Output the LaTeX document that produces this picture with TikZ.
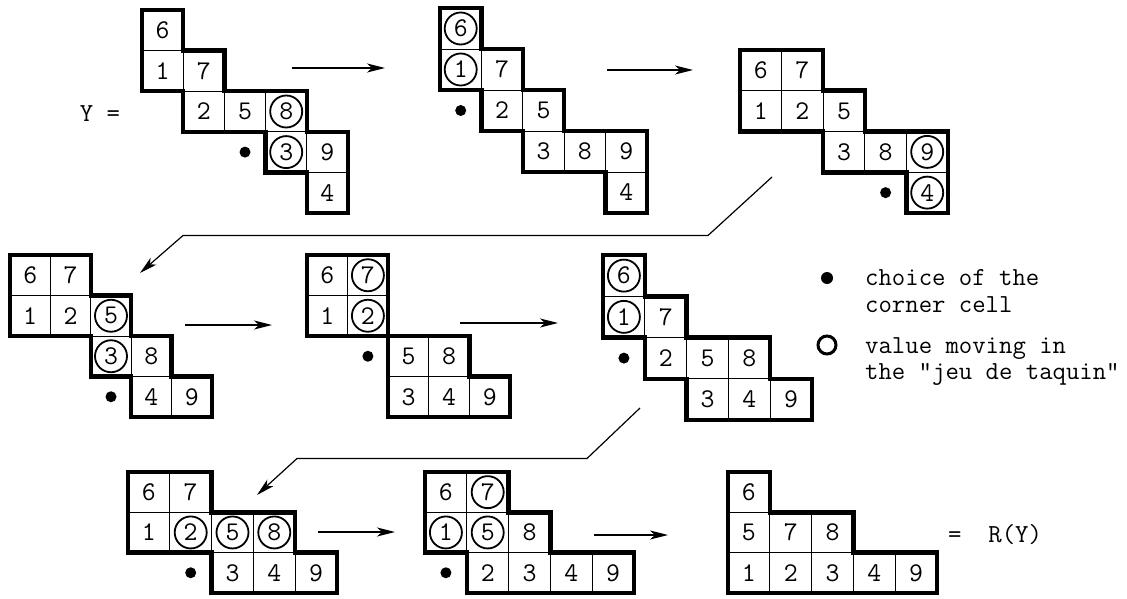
\documentclass[tikz,border=0pt]{standalone}
\usetikzlibrary{arrows.meta}
\tikzset{
  cellbox/.style={draw, line width=0.8pt, inner sep=0pt, font=\fontsize{27}{30}\selectfont\ttfamily},
  outline/.style={line width=4.5pt, line join=miter},
  ring/.style={line width=1.8pt},
  dotmark/.style={fill=black},
  arr/.style={line width=1.4pt, -{Stealth[length=18pt,width=9pt,inset=5pt]}},
  longarr/.style={line width=1.2pt, line join=round, -{Stealth[length=18pt,width=9pt,inset=5pt]}},
  lab/.style={inner sep=0pt, font=\fontsize{26}{28}\selectfont\ttfamily},
  legtext/.style={inner sep=0pt, anchor=base west, font=\fontsize{26}{28}\selectfont\ttfamily},
  tabgrid/.style n args={4}{shift={(#1,#2)}, x=#3pt, y=-#4pt,
     cellbox/.append style={minimum width=#3pt, minimum height=#4pt}}
}
\begin{document}
\begin{tikzpicture}[x=1pt,y=-1pt]
\useasboundingbox (0,0) rectangle (1127,599);
\fill[white] (0,0) rectangle (1127,599);

% T1
\begin{scope}[tabgrid={142}{10}{41.2}{40.6}]
 \foreach \r/\c/\v in {0/0/6,1/0/1,1/1/7,2/1/2,2/2/5,2/3/8,3/3/3,3/4/9,4/4/4}
   \node[cellbox] (a-\r-\c) at (\c+0.5,\r+0.5) {\v};
 \draw[outline] (0,0)--(1,0)--(1,1)--(2,1)--(2,2)--(4,2)--(4,3)--(5,3)--(5,5)--(4,5)--(4,4)--(3,4)--(3,3)--(1,3)--(1,2)--(0,2)--cycle;
 \foreach \n in {a-2-3,a-3-3} \draw[ring] (\n.center) circle[radius=16pt];
 \fill[dotmark] (2.5,3.5) circle[radius=5.5pt];
\end{scope}
\node[lab] (ylab) at (100,114) {Y =};

% T2
\begin{scope}[tabgrid={440}{8}{41.4}{41}]
 \foreach \r/\c/\v in {0/0/6,1/0/1,1/1/7,2/1/2,2/2/5,3/2/3,3/3/8,3/4/9,4/4/4}
   \node[cellbox] (b-\r-\c) at (\c+0.5,\r+0.5) {\v};
 \draw[outline] (0,0)--(1,0)--(1,1)--(2,1)--(2,2)--(3,2)--(3,3)--(5,3)--(5,5)--(4,5)--(4,4)--(2,4)--(2,3)--(1,3)--(1,2)--(0,2)--cycle;
 \foreach \n in {b-0-0,b-1-0} \draw[ring] (\n.center) circle[radius=16pt];
 \fill[dotmark] (0.5,2.5) circle[radius=5.5pt];
\end{scope}

% T3
\begin{scope}[tabgrid={740}{50}{41.6}{40.75}]
 \foreach \r/\c/\v in {0/0/6,0/1/7,1/0/1,1/1/2,1/2/5,2/2/3,2/3/8,2/4/9,3/4/4}
   \node[cellbox] (c-\r-\c) at (\c+0.5,\r+0.5) {\v};
 \draw[outline] (0,0)--(2,0)--(2,1)--(3,1)--(3,2)--(5,2)--(5,4)--(4,4)--(4,3)--(2,3)--(2,2)--(0,2)--cycle;
 \foreach \n in {c-2-4,c-3-4} \draw[ring] (\n.center) circle[radius=16pt];
 \fill[dotmark] (3.5,3.5) circle[radius=5.5pt];
\end{scope}

% T4
\begin{scope}[tabgrid={10}{255}{40.4}{40.5}]
 \foreach \r/\c/\v in {0/0/6,0/1/7,1/0/1,1/1/2,1/2/5,2/2/3,2/3/8,3/3/4,3/4/9}
   \node[cellbox] (d-\r-\c) at (\c+0.5,\r+0.5) {\v};
 \draw[outline] (0,0)--(2,0)--(2,1)--(3,1)--(3,2)--(4,2)--(4,3)--(5,3)--(5,4)--(3,4)--(3,3)--(2,3)--(2,2)--(0,2)--cycle;
 \foreach \n in {d-1-2,d-2-2} \draw[ring] (\n.center) circle[radius=16pt];
 \fill[dotmark] (2.5,3.5) circle[radius=5.5pt];
\end{scope}

% T5
\begin{scope}[tabgrid={307}{255}{40.6}{40.5}]
 \foreach \r/\c/\v in {0/0/6,0/1/7,1/0/1,1/1/2,2/2/5,2/3/8,3/2/3,3/3/4,3/4/9}
   \node[cellbox] (e-\r-\c) at (\c+0.5,\r+0.5) {\v};
 \draw[outline] (0,0)--(2,0)--(2,2)--(4,2)--(4,3)--(5,3)--(5,4)--(2,4)--(2,2)--(0,2)--cycle;
 \foreach \n in {e-0-1,e-1-1} \draw[ring] (\n.center) circle[radius=16pt];
 \fill[dotmark] (1.5,2.5) circle[radius=5.5pt];
\end{scope}

% T6
\begin{scope}[tabgrid={603}{255}{41.8}{41.25}]
 \foreach \r/\c/\v in {0/0/6,1/0/1,1/1/7,2/1/2,2/2/5,2/3/8,3/2/3,3/3/4,3/4/9}
   \node[cellbox] (f-\r-\c) at (\c+0.5,\r+0.5) {\v};
 \draw[outline] (0,0)--(1,0)--(1,1)--(2,1)--(2,2)--(4,2)--(4,3)--(5,3)--(5,4)--(2,4)--(2,3)--(1,3)--(1,2)--(0,2)--cycle;
 \foreach \n in {f-0-0,f-1-0} \draw[ring] (\n.center) circle[radius=16pt];
 \fill[dotmark] (0.5,2.5) circle[radius=5.5pt];
\end{scope}

% T7
\begin{scope}[tabgrid={128}{472}{41.8}{40.3}]
 \foreach \r/\c/\v in {0/0/6,0/1/7,1/0/1,1/1/2,1/2/5,1/3/8,2/2/3,2/3/4,2/4/9}
   \node[cellbox] (g-\r-\c) at (\c+0.5,\r+0.5) {\v};
 \draw[outline] (0,0)--(2,0)--(2,1)--(4,1)--(4,2)--(5,2)--(5,3)--(2,3)--(2,2)--(0,2)--cycle;
 \foreach \n in {g-1-1,g-1-2,g-1-3} \draw[ring] (\n.center) circle[radius=16pt];
 \fill[dotmark] (1.5,2.5) circle[radius=5.5pt];
\end{scope}

% T8
\begin{scope}[tabgrid={425}{472}{41.8}{40.3}]
 \foreach \r/\c/\v in {0/0/6,0/1/7,1/0/1,1/1/5,1/2/8,2/1/2,2/2/3,2/3/4,2/4/9}
   \node[cellbox] (h-\r-\c) at (\c+0.5,\r+0.5) {\v};
 \draw[outline] (0,0)--(2,0)--(2,1)--(3,1)--(3,2)--(5,2)--(5,3)--(1,3)--(1,2)--(0,2)--cycle;
 \foreach \n in {h-0-1,h-1-0,h-1-1} \draw[ring] (\n.center) circle[radius=16pt];
 \fill[dotmark] (0.5,2.5) circle[radius=5.5pt];
\end{scope}

% T9
\begin{scope}[tabgrid={728}{472}{41.8}{40.3}]
 \foreach \r/\c/\v in {0/0/6,1/0/5,1/1/7,1/2/8,2/0/1,2/1/2,2/2/3,2/3/4,2/4/9}
   \node[cellbox] (i-\r-\c) at (\c+0.5,\r+0.5) {\v};
 \draw[outline] (0,0)--(1,0)--(1,1)--(3,1)--(3,2)--(5,2)--(5,3)--(0,3)--cycle;
\end{scope}
\node[lab, anchor=west] (rlab) at (948,535) {=~~R(Y)};

% short arrows
\coordinate (a1s) at (292,68);  \coordinate (a1e) at (385,68);
\coordinate (a2s) at (607,70);  \coordinate (a2e) at (693,70);
\coordinate (a3s) at (185,325); \coordinate (a3e) at (272,325);
\coordinate (a4s) at (460,323); \coordinate (a4e) at (558,323);
\coordinate (a5s) at (318,532); \coordinate (a5e) at (395,532);
\coordinate (a6s) at (594,535); \coordinate (a6e) at (668,535);
\foreach \k in {1,...,6} \draw[arr] (a\k s) -- (a\k e);

% long arrows
\coordinate (l1a) at (772,177); \coordinate (l1b) at (708,235.5);
\coordinate (l1c) at (183,235.5); \coordinate (l1d) at (140,273);
\draw[longarr] (l1a) -- (l1b) -- (l1c) -- (l1d);
\coordinate (l2a) at (640,408); \coordinate (l2b) at (587,458.5);
\coordinate (l2c) at (297,458.5); \coordinate (l2d) at (257,495);
\draw[longarr] (l2a) -- (l2b) -- (l2c) -- (l2d);

% legend
\fill[dotmark] (827,278) circle[radius=6pt];
\draw[line width=3pt] (827,345) circle[radius=9pt];
\node[legtext] (lg1) at (865,285) {choice of the};
\node[legtext] (lg2) at (865,312) {corner cell};
\node[legtext] (lg3) at (865,353) {value moving in};
\node[legtext] (lg4) at (865,379) {the "jeu de taquin"};
\end{tikzpicture}
\end{document}
